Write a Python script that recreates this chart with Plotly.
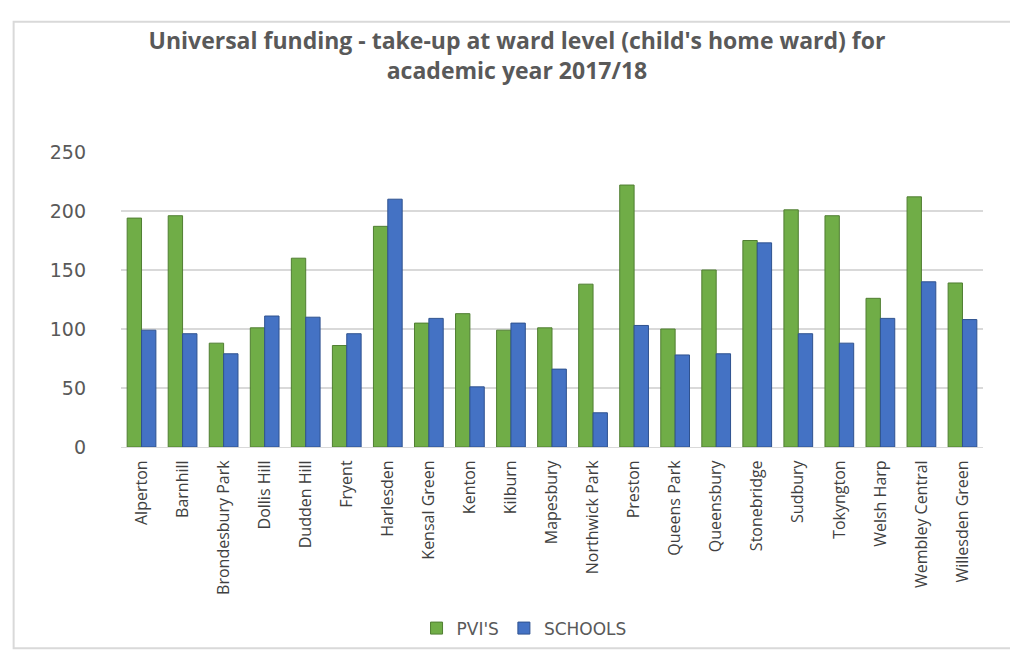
import plotly.graph_objects as go

wards = ["Alperton", "Barnhill", "Brondesbury Park", "Dollis Hill", "Dudden Hill",
         "Fryent", "Harlesden", "Kensal Green", "Kenton", "Kilburn", "Mapesbury",
         "Northwick Park", "Preston", "Queens Park", "Queensbury", "Stonebridge",
         "Sudbury", "Tokyngton", "Welsh Harp", "Wembley Central", "Willesden Green"]
pvis = [194, 196, 88, 101, 160, 86, 187, 105, 113, 99, 101, 138, 222, 100, 150, 175,
        201, 196, 126, 212, 139]
schools = [99, 96, 79, 111, 110, 96, 210, 109, 51, 105, 66, 29, 103, 78, 79, 173,
           96, 88, 109, 140, 108]
y_ticks = [0, 50, 100, 150, 200, 250]

fig = go.Figure()
fig.add_trace(go.Bar(name="PVI'S", x=wards, y=pvis,
                     marker=dict(color="#70ad47", line=dict(color="#507e32", width=1))))
fig.add_trace(go.Bar(name="SCHOOLS", x=wards, y=schools,
                     marker=dict(color="#4472c4", line=dict(color="#2f528f", width=1))))

L, R, T, B = 112.5, 975.5, 144, 443
W, H = 1018, 650
pw, ph = R - L, B - T

def px(x):
    return (x - L) / pw

def py(y):
    return (B - y) / ph

fig.update_layout(
    width=W, height=H,
    margin=dict(l=L, r=W - R, t=T, b=H - B, pad=0),
    paper_bgcolor="white", plot_bgcolor="white",
    barmode="group", bargap=0.3, bargroupgap=0.0,
    title=dict(text="Universal funding - take-up at ward level (child's home ward) for<br>academic year 2017/18",
               x=0.5, xanchor="center", y=1 - 41 / H, yanchor="middle", yref="container",
               font=dict(family="Open Sans", size=23, color="#595959", weight="bold")),
    font=dict(family="Open Sans", color="#595959"),
    xaxis=dict(tickangle=-90, tickfont=dict(size=16, color="#404040"), showgrid=False,
               showline=True, linecolor="#d9d9d9", ticks="", ticklabelstandoff=6),
    yaxis=dict(range=[0, 250], tickvals=y_ticks,
               tickfont=dict(family="DejaVu Sans", size=19, color="#595959"),
               gridcolor="#d9d9d9", gridwidth=1.5, zeroline=False, showline=False,
               ticklabelstandoff=34),
    legend=dict(orientation="h", x=px(516), xanchor="center", y=py(627), yanchor="middle",
                font=dict(family="DejaVu Sans", size=17, color="#595959"), itemwidth=30),
    shapes=[dict(type="rect", xref="paper", yref="paper",
                 x0=px(5), x1=px(1016), y0=py(647), y1=py(12),
                 line=dict(color="#d9d9d9", width=2), fillcolor="rgba(0,0,0,0)", layer="below")],
    showlegend=True,
)

fig.write_html("out.html")
